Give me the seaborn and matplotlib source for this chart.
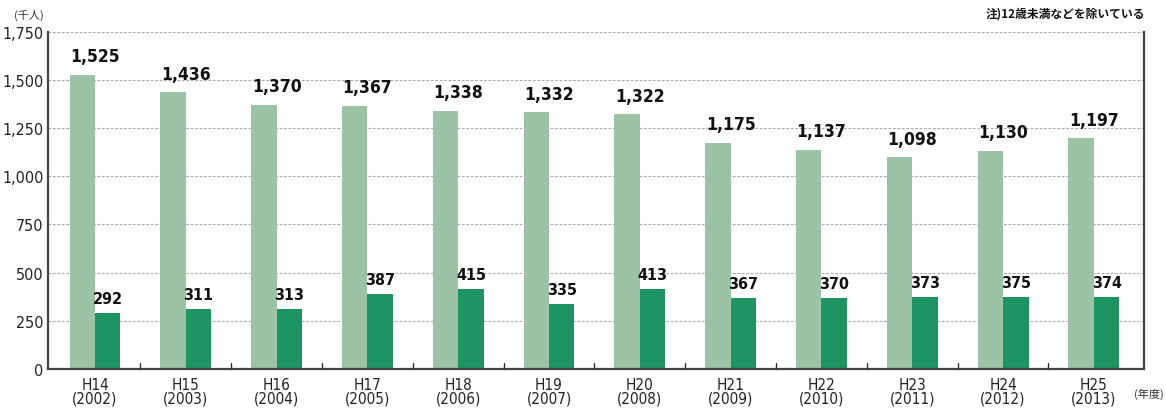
import numpy as np
import pandas as pd
import matplotlib
matplotlib.use("Agg")
import matplotlib.pyplot as plt
import seaborn as sns

# data (thousand people)
eras = ["H14", "H15", "H16", "H17", "H18", "H19", "H20", "H21", "H22", "H23", "H24", "H25"]
years = ["2002", "2003", "2004", "2005", "2006", "2007", "2008", "2009", "2010", "2011", "2012", "2013"]
total = [1525, 1436, 1370, 1367, 1338, 1332, 1322, 1175, 1137, 1098, 1130, 1197]
sub = [292, 311, 313, 387, 415, 335, 413, 367, 370, 373, 375, 374]
yticks = [0, 250, 500, 750, 1000, 1250, 1500, 1750]

light = "#9cc3a5"
dark = "#1e9462"

sns.set_theme(style="white")
plt.rcParams['font.family'] = ['DejaVu Sans', 'Noto Sans CJK JP']
plt.rcParams['font.stretch'] = 'condensed'

df = pd.DataFrame({
    "era": eras * 2,
    "value": total + sub,
    "series": ["total"] * len(eras) + ["sub"] * len(eras),
})

fig = plt.figure(figsize=(11.66, 4.10), dpi=100)
ax = fig.add_axes([0.041, 0.098, 0.940, 0.822])

sns.barplot(data=df, x="era", y="value", hue="series", order=eras,
            hue_order=["total", "sub"], palette=[light, dark],
            width=0.56, saturation=1, legend=False, ax=ax, zorder=2,
            linewidth=0, edgecolor="none")

ax.set_ylim(0, 1750)
ax.set_xlim(-0.52, len(eras) - 0.45)
ax.set_yticks(yticks)
ax.set_yticklabels([f"{v:,}" for v in yticks], fontsize=11.5, color="#222222")
for v in yticks[1:]:
    ax.axhline(v, color="#aaaaaa", lw=0.8, ls=(0, (2.5, 1.5)), zorder=0)

# x labels
ax.set_xticks(range(len(eras)))
ax.set_xticklabels([f"{e}\n({y})" for e, y in zip(eras, years)],
                   fontsize=11, color="#222222", linespacing=0.9)
ax.tick_params(axis="x", length=0, pad=6)
ax.tick_params(axis="y", length=0, pad=3)
ax.set_xlabel("")
ax.set_ylabel("")

# small separator ticks on the baseline between groups
for i in range(len(eras) - 1):
    ax.plot([i + 0.5, i + 0.5], [0, 30], color="#333333", lw=1, zorder=3, clip_on=False)

ax.spines["top"].set_visible(False)
for s in ["left", "right", "bottom"]:
    ax.spines[s].set_color("#444444")
    ax.spines[s].set_linewidth(1.6)

# value labels
for i, v in enumerate(total):
    ax.annotate(f"{v:,}", (i, v), xytext=(0, 7), textcoords="offset points",
                ha="center", va="bottom", fontsize=12.5, color="#111111",
                fontweight="semibold")
for i, v in enumerate(sub):
    ax.annotate(f"{v:,}", (i + 0.14, v), xytext=(0, 5), textcoords="offset points",
                ha="center", va="bottom", fontsize=11.5, color="#111111",
                fontweight="semibold")

fig.text(0.012, 0.955, "(千人)", fontsize=8, color="#333333",
         family=['Noto Sans CJK JP', 'DejaVu Sans'])
fig.text(0.982, 0.958, "注)12歳未満などを除いている", fontsize=8.5, ha="right",
         fontweight="bold", color="#111111",
         family=['Noto Sans CJK JP', 'DejaVu Sans'])
fig.text(0.998, 0.03, "(年度)", fontsize=8, ha="right", color="#333333",
         family=['Noto Sans CJK JP', 'DejaVu Sans'])

fig.savefig("out.png", dpi=100, facecolor="white")
